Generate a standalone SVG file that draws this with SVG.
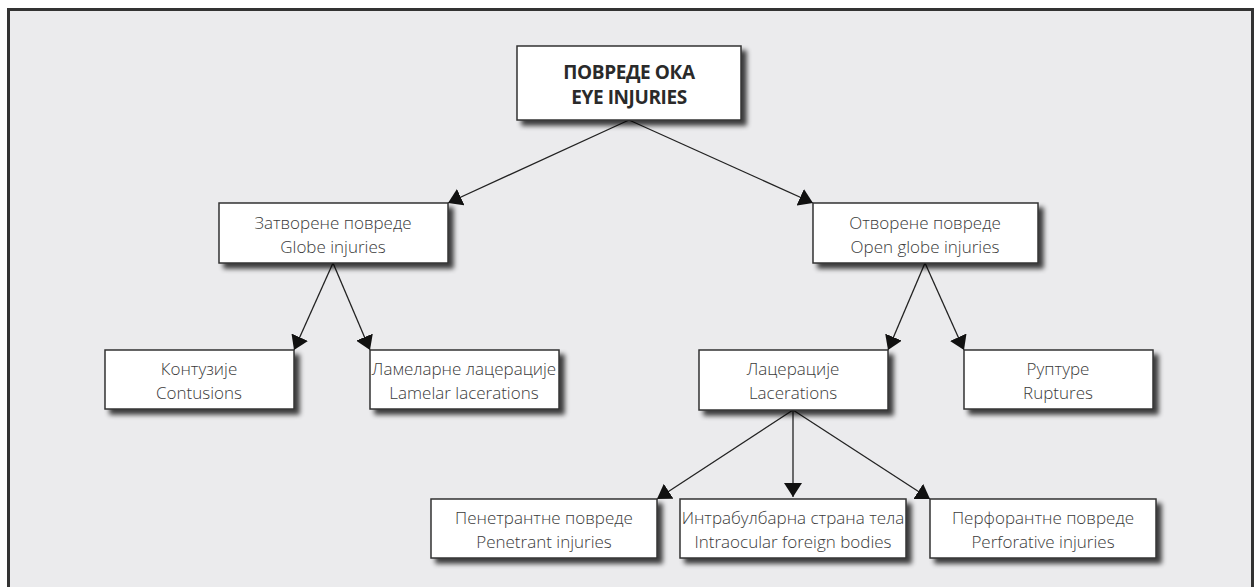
<svg xmlns="http://www.w3.org/2000/svg" width="1255" height="587" viewBox="0 0 1255 587">
<style>
.box{fill:#fff;stroke:#333;stroke-width:1.5;filter:url(#sh)}
.t{font-family:"Open Sans","Noto Sans","Liberation Sans",sans-serif;font-weight:300;font-size:17px;fill:#3a3a3a;text-anchor:middle}
.tb{font-family:"Open Sans","Noto Sans","Liberation Sans",sans-serif;font-weight:700;font-size:19px;fill:#2a2a2a;text-anchor:middle;letter-spacing:-0.4px}
.c{stroke:#222;stroke-width:1.3;fill:none;marker-end:url(#ah)}
</style>
<defs>
<filter id="sh" x="-20%" y="-30%" width="150%" height="170%">
<feGaussianBlur in="SourceAlpha" stdDeviation="2.5"/>
<feOffset dx="5" dy="5" result="b"/>
<feComponentTransfer><feFuncA type="linear" slope="0.75"/></feComponentTransfer>
<feMerge><feMergeNode/><feMergeNode in="SourceGraphic"/></feMerge>
</filter>
<marker id="ah" markerUnits="userSpaceOnUse" viewBox="0 0 14 18" markerWidth="14" markerHeight="18" refX="14" refY="9" orient="auto">
<path d="M0,0 L14,9 L0,18 z" fill="#111"/>
</marker>
</defs>
<rect x="0" y="0" width="1255" height="587" fill="#fff"/>
<rect x="8.5" y="9.5" width="1244" height="600" fill="#ebebed" stroke="#333" stroke-width="3"/>
<g id="connectors">
<line class="c" x1="629" y1="120" x2="448" y2="203"/>
<line class="c" x1="629" y1="120" x2="813" y2="203"/>
<line class="c" x1="333" y1="263" x2="294" y2="350"/>
<line class="c" x1="333" y1="263" x2="370" y2="350"/>
<line class="c" x1="925" y1="263" x2="888" y2="350"/>
<line class="c" x1="925" y1="263" x2="964" y2="350"/>
<line class="c" x1="793" y1="410" x2="657" y2="499"/>
<line class="c" x1="793" y1="410" x2="793" y2="497"/>
<line class="c" x1="793" y1="410" x2="930" y2="499"/>
</g>
<g id="n-root"><rect class="box" x="517" y="46" width="224" height="74"/>
<text class="tb" x="629" y="79">ПОВРЕДЕ ОКА</text><text class="tb" x="629" y="104">EYE INJURIES</text></g>
<g id="n-closed"><rect class="box" x="219" y="203" width="229" height="60"/>
<text class="t" x="333" y="229">Затворене повреде</text><text class="t" x="333" y="253">Globe injuries</text></g>
<g id="n-open"><rect class="box" x="813" y="203" width="225" height="60"/>
<text class="t" x="925" y="229">Отворене повреде</text><text class="t" x="925" y="253">Open globe injuries</text></g>
<g id="n-contusions"><rect class="box" x="105" y="350" width="189" height="59"/>
<text class="t" x="199" y="375">Контузије</text><text class="t" x="199" y="399">Contusions</text></g>
<g id="n-lamelar"><rect class="box" x="370" y="350" width="189" height="59"/>
<text class="t" x="464" y="375">Ламеларне лацерације</text><text class="t" x="464" y="399">Lamelar lacerations</text></g>
<g id="n-lacerations"><rect class="box" x="699" y="350" width="189" height="60"/>
<text class="t" x="793" y="375">Лацерације</text><text class="t" x="793" y="399">Lacerations</text></g>
<g id="n-ruptures"><rect class="box" x="964" y="350" width="189" height="59"/>
<text class="t" x="1058" y="375">Руптуре</text><text class="t" x="1058" y="399">Ruptures</text></g>
<g id="n-penetrant"><rect class="box" x="431" y="499" width="226" height="59"/>
<text class="t" x="544" y="524">Пенетрантне повреде</text><text class="t" x="544" y="548">Penetrant injuries</text></g>
<g id="n-intraocular"><rect class="box" x="680" y="499" width="226" height="59"/>
<text class="t" x="793" y="524">Интрабулбарна страна тела</text><text class="t" x="793" y="548">Intraocular foreign bodies</text></g>
<g id="n-perforative"><rect class="box" x="930" y="499" width="226" height="59"/>
<text class="t" x="1043" y="524">Перфорантне повреде</text><text class="t" x="1043" y="548">Perforative injuries</text></g>
</svg>
